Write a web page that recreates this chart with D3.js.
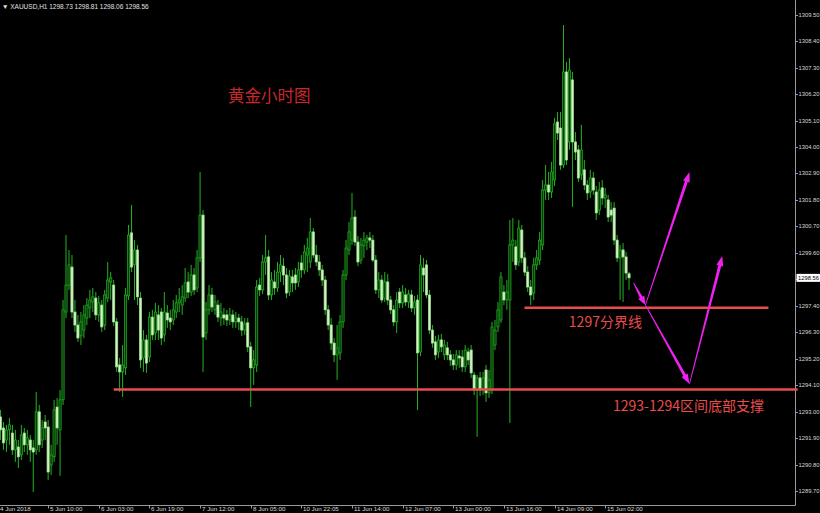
<!DOCTYPE html>
<html><head><meta charset="utf-8">
<script src="https://cdn.jsdelivr.net/npm/d3@7"></script>
<style>html,body{margin:0;padding:0;background:#000;overflow:hidden}</style>
</head><body><svg id="c" width="820" height="513"></svg>
<script>
const opens = [1292.45,1292.78,1292.32,1291.82,1292.24,1292.11,1291.41,1291.53,1291.20,1292.11,
1291.62,1291.82,1291.49,1291.41,1292.99,1291.82,1292.57,1292.36,1290.78,1291.12,
1293.19,1292.24,1293.49,1297.14,1298.26,1299.01,1297.14,1296.60,1296.15,1296.39,
1296.89,1297.31,1297.56,1297.72,1297.02,1297.43,1296.60,1297.72,1298.39,1298.26,
1296.73,1294.94,1294.65,1294.82,1297.81,1300.43,1299.10,1299.72,1297.72,1295.23,
1295.98,1295.27,1296.93,1296.27,1297.02,1297.14,1296.19,1297.10,1296.89,1296.81,
1297.14,1297.52,1297.43,1297.72,1298.39,1297.97,1298.68,1298.14,1299.39,1301.17,
1296.27,1297.23,1297.85,1297.23,1297.43,1296.89,1297.02,1297.02,1296.81,1297.02,
1296.73,1296.89,1296.73,1296.39,1296.69,1295.69,1294.82,1294.94,1298.26,1298.06,
1299.22,1299.43,1297.85,1298.39,1298.14,1298.80,1299.05,1298.68,1297.97,1298.60,
1298.68,1298.39,1299.18,1298.89,1299.51,1299.22,1300.47,1299.51,1299.22,1298.89,
1298.47,1297.23,1296.60,1295.85,1295.36,1295.44,1296.73,1298.68,1299.72,1300.13,
1301.09,1300.05,1299.30,1299.89,1300.05,1300.22,1300.13,1299.30,1298.06,1298.47,
1297.72,1298.39,1297.64,1297.23,1296.73,1297.97,1297.52,1297.85,1297.56,1297.85,
1297.31,1297.64,1295.48,1298.97,1299.10,1297.85,1296.39,1295.90,1295.48,1295.98,
1295.36,1295.65,1295.36,1295.15,1294.94,1295.31,1295.27,1294.86,1295.48,1295.56,
1294.52,1293.90,1294.40,1293.90,1294.73,1293.78,1293.90,1295.77,1296.52,1296.81,
1297.97,1297.64,1297.64,1299.93,1299.85,1299.22,1300.55,1299.39,1298.80,1298.18,
1297.93,1299.10,1299.30,1299.93,1302.21,1302.42,1302.13,1302.63,1305.04,1304.79,
1303.25,1307.12,1304.21,1306.79,1304.21,1303.88,1302.84,1303.05,1302.42,1302.13,
1302.71,1302.13,1301.38,1302.30,1301.88,1301.80,1301.38,1301.46,1300.13,1299.39,
1299.72,1299.43,1298.73];
const highs = [1293.07,1293.07,1292.57,1292.45,1292.74,1292.45,1292.24,1291.82,1292.45,1292.32,
1292.24,1292.03,1291.82,1293.82,1293.28,1292.65,1292.86,1292.65,1291.62,1293.49,
1293.57,1293.90,1297.64,1300.34,1299.72,1299.51,1297.64,1297.02,1297.14,1297.43,
1297.72,1298.06,1298.14,1297.97,1297.81,1297.64,1298.06,1299.22,1298.80,1298.47,
1296.89,1295.23,1295.77,1298.14,1300.76,1301.59,1300.13,1299.93,1297.97,1296.39,
1296.19,1297.14,1297.23,1297.52,1297.43,1297.31,1297.97,1297.43,1297.23,1297.64,
1297.85,1298.14,1298.26,1298.97,1298.80,1299.10,1298.97,1299.72,1302.96,1301.38,
1297.56,1298.26,1298.14,1297.85,1297.64,1297.52,1297.31,1297.23,1297.31,1297.23,
1297.14,1297.06,1296.98,1296.89,1296.89,1295.90,1295.56,1298.47,1298.56,1299.51,
1300.34,1299.72,1298.80,1298.89,1299.22,1299.51,1299.39,1298.97,1298.89,1298.89,
1298.97,1299.22,1299.51,1299.93,1300.22,1301.05,1300.63,1299.93,1299.51,1299.10,
1298.64,1297.43,1296.89,1296.06,1296.60,1297.02,1298.89,1300.13,1300.88,1302.09,
1301.38,1300.30,1300.22,1300.47,1300.34,1300.47,1300.34,1299.51,1298.80,1298.68,
1298.80,1298.72,1297.81,1297.43,1297.97,1298.14,1298.26,1298.14,1298.06,1298.06,
1297.81,1297.85,1299.51,1299.39,1299.30,1298.06,1296.60,1296.15,1296.19,1296.23,
1295.98,1295.90,1295.56,1295.40,1295.56,1295.56,1295.56,1295.77,1295.65,1295.77,
1294.65,1294.52,1294.65,1294.65,1294.94,1294.73,1296.73,1296.81,1297.56,1298.80,
1298.26,1298.47,1300.97,1301.05,1300.13,1300.97,1300.76,1299.64,1299.05,1298.47,
1299.39,1299.72,1300.47,1302.63,1303.25,1302.96,1303.38,1305.21,1305.46,1305.46,
1309.07,1307.53,1307.70,1307.12,1304.62,1304.08,1304.92,1303.46,1302.63,1303.05,
1302.96,1302.38,1302.55,1302.63,1302.30,1302.01,1301.71,1301.71,1300.34,1299.93,
1300.01,1299.64,1298.81];
const lows = [1292.16,1291.82,1291.41,1291.32,1291.62,1291.20,1290.91,1290.66,1290.99,1291.32,
1291.20,1290.91,1289.66,1291.20,1291.32,1291.49,1291.82,1290.16,1290.37,1290.91,
1291.62,1290.33,1293.28,1296.89,1298.06,1296.89,1296.31,1295.90,1295.77,1296.06,
1296.60,1296.89,1297.14,1296.81,1296.73,1296.31,1296.39,1297.56,1297.64,1296.56,
1294.65,1293.82,1293.61,1294.52,1297.64,1298.80,1297.64,1297.43,1294.82,1294.65,
1294.61,1295.06,1295.98,1295.98,1295.98,1295.77,1295.90,1296.48,1296.39,1296.60,
1296.89,1297.14,1297.02,1297.56,1297.72,1297.81,1297.85,1297.97,1299.22,1294.65,
1295.98,1297.02,1297.14,1297.02,1296.73,1296.56,1296.60,1296.56,1296.60,1296.48,
1296.48,1296.39,1296.15,1296.19,1295.48,1293.19,1294.11,1294.65,1297.81,1297.89,
1298.68,1297.64,1297.64,1297.85,1297.97,1298.39,1298.26,1297.72,1297.81,1297.97,
1298.06,1298.18,1298.56,1298.72,1298.80,1298.97,1299.39,1299.05,1298.64,1298.22,
1297.02,1296.39,1295.56,1295.06,1294.32,1295.15,1296.48,1298.47,1299.51,1299.93,
1299.89,1299.05,1299.14,1299.39,1299.72,1299.80,1299.22,1297.89,1297.72,1297.52,
1297.56,1297.43,1297.06,1296.56,1296.27,1297.31,1297.31,1297.39,1297.31,1297.14,
1297.02,1293.07,1295.31,1297.97,1297.72,1296.23,1295.65,1295.15,1295.23,1295.48,
1295.15,1295.15,1294.90,1294.73,1294.73,1294.82,1294.65,1294.65,1294.94,1294.40,
1293.69,1291.95,1293.65,1293.69,1293.40,1293.57,1293.73,1295.56,1296.31,1296.69,
1297.43,1297.23,1292.53,1299.22,1298.89,1299.05,1299.18,1298.64,1297.97,1297.43,
1297.64,1298.89,1299.10,1299.72,1301.80,1301.80,1301.88,1302.38,1304.29,1303.05,
1303.13,1303.25,1303.88,1301.51,1303.46,1302.55,1302.63,1302.21,1301.80,1301.88,
1302.01,1300.97,1301.17,1301.59,1301.46,1300.88,1300.88,1299.93,1299.22,1297.64,
1297.56,1298.47,1298.06];
const closes = [1292.74,1292.24,1291.70,1292.24,1292.45,1291.41,1291.82,1291.12,1292.03,1291.62,
1291.91,1291.41,1291.32,1292.99,1291.62,1292.32,1292.32,1290.49,1291.20,1293.07,
1292.32,1293.49,1297.23,1298.26,1299.10,1297.14,1296.60,1296.06,1296.73,1297.02,
1297.43,1297.64,1297.77,1297.02,1297.52,1296.52,1297.85,1298.47,1298.56,1296.73,
1294.86,1294.65,1294.94,1297.85,1300.34,1299.01,1299.72,1297.77,1295.15,1295.98,
1295.02,1296.93,1296.19,1297.14,1296.39,1296.06,1297.14,1296.81,1296.73,1297.23,
1297.52,1297.64,1297.77,1298.35,1297.97,1298.68,1298.06,1299.39,1301.17,1296.10,
1297.23,1297.85,1297.35,1297.56,1296.93,1297.14,1296.89,1296.81,1297.02,1296.73,
1296.89,1296.73,1296.39,1296.64,1295.69,1294.82,1295.15,1298.18,1298.06,1299.22,
1299.39,1297.85,1298.47,1298.14,1298.80,1299.10,1298.68,1297.93,1298.64,1298.35,
1298.35,1298.89,1298.89,1299.64,1299.80,1300.47,1299.51,1299.22,1298.89,1298.47,
1297.23,1296.60,1295.85,1295.36,1295.65,1296.73,1298.68,1299.80,1300.47,1301.05,
1300.05,1299.22,1299.93,1300.13,1300.22,1300.13,1299.30,1298.06,1298.47,1297.64,
1298.39,1297.64,1297.23,1296.73,1297.64,1297.52,1297.97,1297.56,1297.89,1297.31,
1297.56,1295.44,1299.10,1298.68,1297.85,1296.39,1295.85,1295.36,1295.98,1295.69,
1295.77,1295.36,1295.15,1294.94,1295.36,1295.23,1294.86,1295.56,1295.15,1294.61,
1293.90,1294.40,1293.90,1294.40,1293.78,1294.32,1296.52,1296.39,1297.23,1298.60,
1297.64,1297.97,1299.93,1300.13,1299.10,1300.63,1299.39,1298.80,1298.18,1297.85,
1299.10,1299.39,1300.13,1302.21,1302.42,1302.13,1302.96,1304.96,1304.58,1303.25,
1307.12,1303.46,1307.20,1304.21,1303.79,1302.71,1303.88,1302.42,1302.09,1302.71,
1302.21,1301.26,1302.21,1301.88,1302.01,1301.09,1301.17,1300.13,1299.39,1299.72,
1299.43,1298.76,1298.56];

const timeLabels = ["4 Jun 2018","5 Jun 10:00","6 Jun 03:00","6 Jun 19:00","7 Jun 12:00","8 Jun 05:00","10 Jun 22:05","11 Jun 14:00","12 Jun 07:00","13 Jun 00:00","13 Jun 16:00","14 Jun 09:00","15 Jun 02:00"];
const timeLabelBars = [0,17,34,51,68,85,102,119,136,153,170,187,204];
const priceTicks = [1309.50,1308.40,1307.30,1306.20,1305.10,1304.00,1302.90,1301.80,1300.70,1299.60,1298.50,1297.40,1296.30,1295.20,1294.10,1293.00,1291.90,1290.80,1289.70];
const priceTickLabels = ["1309.50","1308.40","1307.30","1306.20","1305.10","1304.00","1302.90","1301.80","1300.70","1299.60","","1297.40","1296.30","1295.20","1294.10","1293.00","1291.90","1290.80","1289.70"];
const headerText = "XAUUSD,H1  1298.73 1298.81 1298.06 1298.56";
const lastPrice = 1298.56;

// annotation data (bar index, price)
const levelNames = ["1297分界线","1293-1294区间底部支撑"];
const levelPrices = [1297.32, 1293.92];
const levelStartBars = [176.9, 39];
const levelEndBars = [258.8, 268.6];
const arrowFrom = [[213.5,1298.35],[217.5,1297.43],[217.5,1297.43],[232.3,1294.15]];
const arrowTo   = [[217.5,1297.43],[232.3,1302.96],[232.3,1294.15],[243.3,1299.47]];
const titleText = "黄金小时图";

const W = 820, H = 513, axisX = 795.5, axisY = 505.5;
const svg = d3.select("#c");
svg.append("rect").attr("width",W).attr("height",H).attr("fill","#000");

const x = d3.scaleLinear().domain([0,204]).range([-2.5,605.2]);
const y = d3.scaleLinear().domain([1289.70,1309.50]).range([491,14.7]);

const bars = opens.map((o,i)=>({i,o,h:highs[i],l:lows[i],c:closes[i]}));

const plot = svg.append("g");
plot.append("clipPath").attr("id","pc").append("rect").attr("x",0).attr("y",0).attr("width",axisX).attr("height",axisY);
const pg = plot.append("g").attr("clip-path","url(#pc)");

const green = "#22b422";
pg.selectAll("line.w").data(bars).enter().append("line")
  .attr("x1",d=>x(d.i)).attr("x2",d=>x(d.i))
  .attr("y1",d=>y(d.h)).attr("y2",d=>y(d.l))
  .attr("stroke",green).attr("stroke-width",1);
pg.selectAll("rect.b").data(bars).enter().append("rect")
  .attr("x",d=>x(d.i)-1.1).attr("width",2.2)
  .attr("y",d=>y(Math.max(d.o,d.c)))
  .attr("height",d=>Math.max(0.8,Math.abs(y(d.o)-y(d.c))))
  .attr("fill",d=>d.c>=d.o?"#0a3a0a":"#d2f2c6")
  .attr("stroke",d=>d.c>=d.o?green:"#9ee08e").attr("stroke-width",0.7);

// axes lines
svg.append("line").attr("x1",axisX).attr("x2",axisX).attr("y1",0).attr("y2",axisY).attr("stroke","#9a9a9a").attr("stroke-width",1);
svg.append("line").attr("x1",0).attr("x2",axisX).attr("y1",axisY).attr("y2",axisY).attr("stroke","#9a9a9a").attr("stroke-width",1);

// right price axis
const ra = svg.append("g");
const tickFont = "Liberation Sans, Arial, sans-serif";
priceTicks.forEach((p,k)=>{
  ra.append("line").attr("x1",axisX).attr("x2",axisX+2.5).attr("y1",Math.round(y(p))+0.5).attr("y2",Math.round(y(p))+0.5).attr("stroke","#9a9a9a");
  ra.append("text").attr("x",axisX+3).attr("y",y(p)).attr("dy","0.35em")
    .attr("font-family",tickFont).attr("font-size",5.8).attr("fill","#d8d8d8")
    .text(priceTickLabels[k]);
});
// last price box
svg.append("rect").attr("x",axisX+1).attr("y",y(lastPrice)-4).attr("width",24).attr("height",8).attr("fill","#fff");
svg.append("text").attr("x",axisX+2.5).attr("y",y(lastPrice)).attr("dy","0.35em")
  .attr("font-family",tickFont).attr("font-size",5.8).attr("fill","#000").text(d3.format(".2f")(lastPrice));

// bottom time axis
timeLabelBars.forEach((b,k)=>{
  const tx = Math.round(x(b))+0.5;
  svg.append("line").attr("x1",tx).attr("x2",tx).attr("y1",axisY).attr("y2",axisY+3).attr("stroke","#9a9a9a");
  svg.append("text").attr("x",tx+1.5).attr("y",511)
    .attr("font-family",tickFont).attr("font-size",6.2).attr("fill","#d8d8d8")
    .text(timeLabels[k]);
});

// header
svg.append("text").attr("x",2).attr("y",9).attr("font-family",tickFont)
  .attr("font-size",6.5).attr("fill","#e0e0e0").text("▼ "+headerText);

// levels
const red = "#e84c4c";
levelPrices.forEach((p,k)=>{
  svg.append("line").attr("x1",x(levelStartBars[k])).attr("x2",x(levelEndBars[k]))
    .attr("y1",y(p)).attr("y2",y(p)).attr("stroke",red).attr("stroke-width",2.6);
});
const cjk = "'Noto Sans CJK SC', 'Noto Sans', sans-serif";
svg.append("text").attr("x",x(191.8)).attr("y",y(levelPrices[0])+19.5).attr("font-family",cjk)
  .attr("font-size",14).attr("fill",red).text(levelNames[0]);
svg.append("text").attr("x",x(206.6)).attr("y",y(levelPrices[1])+21.5).attr("font-family",cjk)
  .attr("font-size",14).attr("fill",red).text(levelNames[1]);
svg.append("text").attr("x",228).attr("y",102).attr("font-family",cjk)
  .attr("font-size",16.5).attr("fill","#c8282a").text(titleText);

// arrows
const mag = "#f020f0";
arrowFrom.forEach((f,k)=>{
  const t = arrowTo[k];
  const x0=x(f[0]), y0=y(f[1]), x1=x(t[0]), y1=y(t[1]);
  const dx=x1-x0, dy=y1-y0, L=Math.hypot(dx,dy), ux=dx/L, uy=dy/L, nx=-uy, ny=ux;
  const hl = Math.min(10, L*0.35), hw = 3.5, w0=0.4, w1=1.5;
  const bx = x1-ux*hl, by=y1-uy*hl;
  const pts = [[x0+nx*w0,y0+ny*w0],[bx+nx*w1,by+ny*w1],[bx+nx*hw,by+ny*hw],[x1,y1],[bx-nx*hw,by-ny*hw],[bx-nx*w1,by-ny*w1],[x0-nx*w0,y0-ny*w0]];
  svg.append("path").attr("d","M"+pts.map(p=>p.join(",")).join("L")+"Z").attr("fill",mag);
});
</script></body></html>
